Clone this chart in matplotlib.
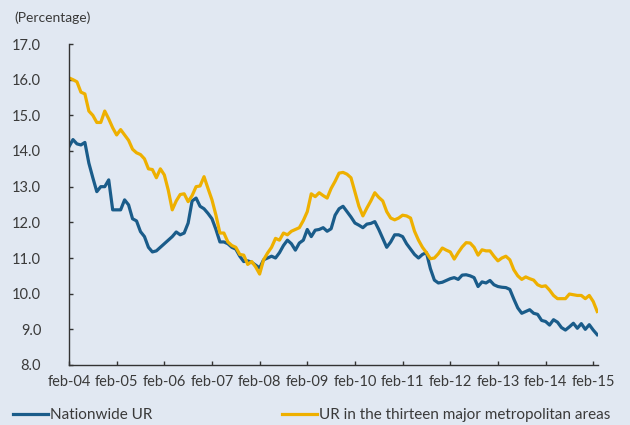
import matplotlib
matplotlib.use("Agg")
import matplotlib.pyplot as plt
from matplotlib.lines import Line2D
import numpy as np

plt.rcParams['font.family'] = ['Lato', 'DejaVu Sans']

# monthly data feb-04 .. mar-15
nationwide = [
    14.12, 14.32, 14.20, 14.17, 14.24, 13.66, 13.25, 12.86, 13.00, 13.00, 13.19, 12.35,
    12.35, 12.35, 12.63, 12.49, 12.10, 12.04, 11.74, 11.60, 11.30, 11.17, 11.20, 11.30,
    11.40, 11.50, 11.60, 11.73, 11.65, 11.70, 11.98, 12.60, 12.68, 12.45, 12.38, 12.25,
    12.10, 11.80, 11.45, 11.45, 11.40, 11.30, 11.25, 11.05, 10.90, 10.92, 10.88, 10.80,
    10.72, 10.95, 11.00, 11.05, 11.00, 11.15, 11.35, 11.50, 11.40, 11.22, 11.42, 11.50,
    11.80, 11.60, 11.78, 11.80, 11.85, 11.75, 11.82, 12.20, 12.38, 12.45, 12.30, 12.15,
    11.98, 11.92, 11.85, 11.95, 11.97, 12.02, 11.80, 11.55, 11.30, 11.45, 11.65, 11.65,
    11.60, 11.40, 11.25, 11.10, 11.00, 11.10, 11.15, 10.70, 10.38, 10.30, 10.32, 10.37,
    10.42, 10.45, 10.40, 10.52, 10.53, 10.50, 10.45, 10.20, 10.33, 10.30, 10.37, 10.25,
    10.20, 10.18, 10.17, 10.12, 9.85, 9.60, 9.45, 9.50, 9.55, 9.45, 9.42, 9.25,
    9.22, 9.12, 9.27, 9.20, 9.05, 8.98, 9.07, 9.17, 9.03, 9.16, 9.00, 9.13,
    8.98, 8.85,
]
metro13 = [
    16.05, 16.00, 15.94, 15.65, 15.60, 15.12, 15.00, 14.80, 14.80, 15.12, 14.90, 14.65,
    14.45, 14.60, 14.45, 14.30, 14.05, 13.95, 13.90, 13.78, 13.50, 13.48, 13.25, 13.50,
    13.33, 12.90, 12.35, 12.60, 12.78, 12.80, 12.58, 12.75, 13.00, 13.02, 13.28, 12.95,
    12.63, 12.20, 11.70, 11.70, 11.45, 11.35, 11.30, 11.10, 11.08, 10.82, 10.90, 10.75,
    10.55, 10.95, 11.14, 11.30, 11.55, 11.50, 11.70, 11.65, 11.75, 11.80, 11.85, 12.05,
    12.30, 12.80, 12.72, 12.83, 12.75, 12.68, 12.95, 13.15, 13.38, 13.40, 13.35, 13.25,
    12.85, 12.45, 12.18, 12.40, 12.60, 12.83, 12.70, 12.60, 12.30, 12.12, 12.07, 12.12,
    12.20, 12.18, 12.12, 11.75, 11.50, 11.30, 11.15, 10.98, 11.00, 11.12, 11.28, 11.22,
    11.17, 10.97, 11.15, 11.31, 11.43, 11.42, 11.30, 11.08, 11.23, 11.20, 11.20, 11.05,
    10.92, 11.00, 11.05, 10.95, 10.67, 10.50, 10.40, 10.47, 10.42, 10.38, 10.25, 10.20,
    10.22, 10.10, 9.95, 9.86, 9.86, 9.86, 9.99, 9.97, 9.95, 9.95, 9.86, 9.95,
    9.78, 9.50,
]
tick_labels = ["feb-04", "feb-05", "feb-06", "feb-07", "feb-08", "feb-09",
               "feb-10", "feb-11", "feb-12", "feb-13", "feb-14", "feb-15"]
y_ticks = [8.0, 9.0, 10.0, 11.0, 12.0, 13.0, 14.0, 15.0, 16.0, 17.0]
series_names = ["Nationwide UR", "UR in the thirteen major metropolitan areas"]

bg = "#e1e8f2"
blue = "#1a5c8a"
yellow = "#eeb000"
txt = "#3a3a3a"

fig = plt.figure(figsize=(6.3, 4.25), dpi=100, facecolor=bg)
ax = fig.add_axes([69/630, 1-365/425, (598-69)/630, (365-44)/425])
ax.set_facecolor(bg)

x = np.arange(len(nationwide))
ax.plot(x, nationwide, color=blue, lw=2.3, solid_joinstyle='round')
ax.plot(x, metro13, color=yellow, lw=2.3, solid_joinstyle='round')

ax.set_xlim(0, 133.2)
ax.set_ylim(8, 17)
ax.set_xticks(np.arange(len(tick_labels)) * 12)
ax.set_xticklabels(tick_labels)
ax.set_yticks(y_ticks)
ax.set_yticklabels([f"{v:.1f}" for v in y_ticks])

for s in ["top", "right"]:
    ax.spines[s].set_visible(False)
for s in ["left", "bottom"]:
    ax.spines[s].set_color("#333333")
    ax.spines[s].set_linewidth(1.0)

ax.tick_params(axis='x', direction='in', length=3, width=1, color="#333333",
               labelsize=10.5, labelcolor=txt, pad=7)
ax.tick_params(axis='y', direction='in', length=3, width=1, color="#333333",
               labelsize=10.5, labelcolor=txt, pad=20)
for lab in ax.get_yticklabels():
    lab.set_horizontalalignment('right')

fig.text(14/630, 1-18/425, "(Percentage)", fontsize=10, color=txt,
         ha='left', va='center')

h1 = Line2D([], [], color=blue, lw=2.3)
h2 = Line2D([], [], color=yellow, lw=2.3)
fig.legend([h1], [series_names[0]], loc='center left',
           bbox_to_anchor=(13/630, 1-415/425), frameon=False, fontsize=11,
           handlelength=2.3, handletextpad=0.12, borderaxespad=0, borderpad=0,
           labelcolor=txt)
fig.legend([h2], [series_names[1]], loc='center left',
           bbox_to_anchor=(282/630, 1-415/425), frameon=False, fontsize=11,
           handlelength=2.3, handletextpad=0.12, borderaxespad=0, borderpad=0,
           labelcolor=txt)

fig.savefig("out.png", dpi=100, facecolor=bg)
